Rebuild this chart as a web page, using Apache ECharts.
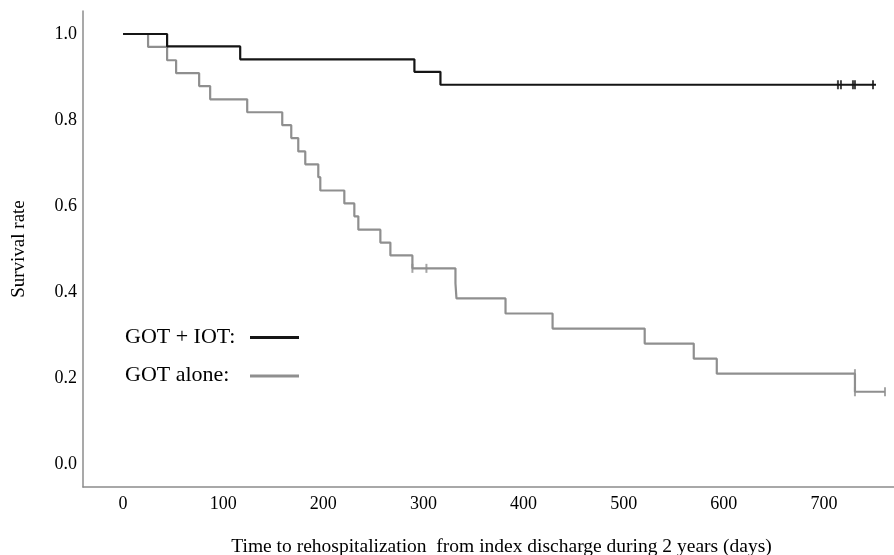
<!DOCTYPE html>
<html>
<head>
<meta charset="utf-8">
<script src="https://cdn.jsdelivr.net/npm/echarts@6/dist/echarts.min.js"></script>
<style>
  html, body { margin: 0; padding: 0; background: #fff; }
  #chart { width: 894px; height: 555px; }
</style>
</head>
<body>
<div id="chart"></div>
<script>
// Kaplan-Meier steps (day of event, survival after it)
const iotTimes = [0, 44, 117, 291, 317, 752];
const iotSurv = [1.0, 0.971, 0.941, 0.912, 0.882, 0.882];
const iotCensorTimes = [714, 717, 729, 731, 749];
const iotCensorSurv = [0.882, 0.882, 0.882, 0.882, 0.882];

const aloneTimes = [0, 25, 44, 53, 76, 87, 124, 159, 168, 175, 182, 195, 197, 221, 231, 235, 257, 267, 289, 332, 333, 382, 429, 521, 570, 593, 731, 761];
const aloneSurv = [1.0, 0.970, 0.939, 0.909, 0.879, 0.848, 0.818, 0.788, 0.758, 0.727, 0.697, 0.667, 0.636, 0.606, 0.576, 0.545, 0.515, 0.485, 0.455, 0.420, 0.385, 0.350, 0.315, 0.280, 0.245, 0.210, 0.168, 0.168];
const aloneCensorTimes = [289, 303, 731, 731, 761];
const aloneCensorSurv = [0.455, 0.455, 0.210, 0.168, 0.168];

const xTicks = [0, 100, 200, 300, 400, 500, 600, 700];
const yTicks = [0, 0.2, 0.4, 0.6, 0.8, 1.0];

const serif = '"Liberation Serif", "DejaVu Serif", serif';
const black = '#151515';
const gray = '#8f8f8f';

const zip = (a, b) => a.map((v, i) => [v, b[i]]);

const chart = echarts.init(document.getElementById('chart'));

chart.setOption({
  animation: false,
  backgroundColor: '#fff',
  grid: { left: 83, right: 0, top: 11, bottom: 68, outerBoundsMode: 'none' },
  xAxis: {
    type: 'value',
    min: -40,
    max: 770,
    name: 'Time to rehospitalization  from index discharge during 2 years (days)',
    nameLocation: 'middle',
    nameGap: 50,
    nameTextStyle: { fontFamily: serif, fontSize: 19.5, color: '#000', padding: [0, 0, 0, 26] },
    axisLine: { onZero: false, lineStyle: { color: '#8c8c8c', width: 1.5 } },
    axisTick: { show: false },
    splitLine: { show: false },
    axisLabel: {
      customValues: xTicks,
      margin: 8,
      fontFamily: serif,
      fontSize: 18,
      color: '#000'
    }
  },
  yAxis: {
    type: 'value',
    min: -0.0535,
    max: 1.0535,
    name: 'Survival rate',
    nameLocation: 'middle',
    nameRotate: 90,
    nameGap: 54,
    nameTextStyle: { fontFamily: serif, fontSize: 19, color: '#000' },
    axisLine: { show: true, onZero: false, lineStyle: { color: '#8c8c8c', width: 1.5 } },
    axisTick: { show: false },
    splitLine: { show: false },
    axisLabel: {
      customValues: yTicks,
      margin: 6,
      padding: [5, 0, 0, 0],
      fontFamily: serif,
      fontSize: 18,
      color: '#000',
      formatter: v => v.toFixed(1)
    }
  },
  series: [
    {
      name: 'GOT alone',
      type: 'line',
      step: 'end',
      showSymbol: false,
      z: 2,
      lineStyle: { color: gray, width: 2.2 },
      data: zip(aloneTimes, aloneSurv)
    },
    {
      name: 'GOT alone censored',
      type: 'scatter',
      symbol: 'rect',
      symbolSize: [2, 9],
      z: 2,
      itemStyle: { color: gray },
      data: zip(aloneCensorTimes, aloneCensorSurv)
    },
    {
      name: 'GOT + IOT',
      type: 'line',
      step: 'end',
      showSymbol: false,
      z: 3,
      lineStyle: { color: black, width: 2.2 },
      data: zip(iotTimes, iotSurv)
    },
    {
      name: 'GOT + IOT censored',
      type: 'scatter',
      symbol: 'rect',
      symbolSize: [2, 9],
      z: 3,
      itemStyle: { color: black },
      data: zip(iotCensorTimes, iotCensorSurv)
    }
  ],
  // legend drawn by hand: label first, line sample after it
  graphic: [
    { type: 'text', left: 125, top: 326, style: { text: 'GOT + IOT:', font: '22px ' + serif, fill: '#000' } },
    { type: 'line', shape: { x1: 250, y1: 337.5, x2: 299, y2: 337.5 }, style: { stroke: black, lineWidth: 3 } },
    { type: 'text', left: 125, top: 364, style: { text: 'GOT alone:', font: '22px ' + serif, fill: '#000' } },
    { type: 'line', shape: { x1: 250, y1: 376, x2: 299, y2: 376 }, style: { stroke: gray, lineWidth: 3 } }
  ]
});
</script>
</body>
</html>
